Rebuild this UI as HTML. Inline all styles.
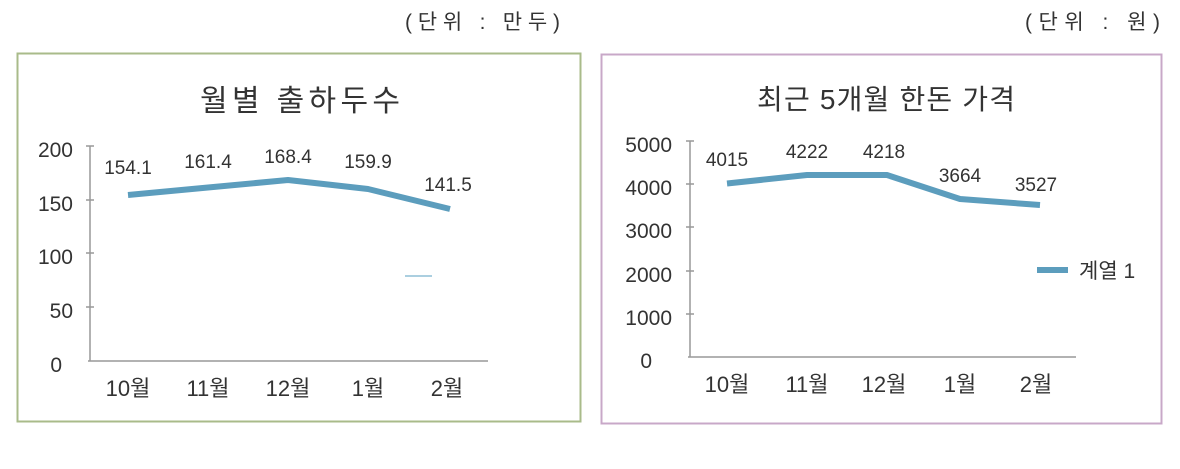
<!DOCTYPE html>
<html><head><meta charset="utf-8"><style>
body{margin:0;background:#fff;}
svg text{font-family:"Liberation Sans","Noto Sans CJK KR",sans-serif;fill:#333;}
</style></head><body>
<svg width="1180" height="464" viewBox="0 0 1180 464" xmlns="http://www.w3.org/2000/svg">
<rect width="1180" height="464" fill="#fff"/>
<text x="405" y="29" font-size="21" fill="#444" textLength="155" lengthAdjust="spacing">(단위 : 만두)</text>
<text x="1025" y="29" font-size="21" fill="#444" textLength="135" lengthAdjust="spacing">(단위 : 원)</text>
<!-- Left -->
<rect x="17.5" y="53.5" width="563" height="368" fill="#fff" stroke="#a9bb8a" stroke-width="2"/>
<text x="300" y="111" font-size="30" text-anchor="middle" textLength="200" lengthAdjust="spacing">월별 출하두수</text>
<g stroke="#999" stroke-width="1.5">
<line x1="90" y1="146" x2="90" y2="361"/>
<line x1="88" y1="361" x2="488" y2="361"/>
<line x1="86" y1="146" x2="94" y2="146"/><line x1="86" y1="200" x2="94" y2="200"/><line x1="86" y1="253" x2="94" y2="253"/><line x1="86" y1="307" x2="94" y2="307"/>
</g>
<g font-size="21" text-anchor="end">
<text x="73" y="157">200</text><text x="73" y="211">150</text><text x="73" y="264">100</text><text x="73" y="318">50</text><text x="62" y="372">0</text>
</g>
<polyline points="128,195 208,187.5 288,180 368,189 450,209" fill="none" stroke="#5c9dbd" stroke-width="6" stroke-linejoin="round"/>
<line x1="405" y1="276" x2="432" y2="276" stroke="#8fbfd6" stroke-width="1.5"/>
<g font-size="19" text-anchor="middle">
<text x="128" y="174">154.1</text><text x="208" y="168">161.4</text><text x="288" y="163">168.4</text><text x="368" y="168">159.9</text><text x="448" y="191">141.5</text>
</g>
<g font-size="22" text-anchor="middle">
<text x="128" y="396">10월</text><text x="208" y="396">11월</text><text x="288" y="396">12월</text><text x="368" y="396">1월</text><text x="447" y="396">2월</text>
</g>
<!-- Right -->
<rect x="601.5" y="54.5" width="560" height="369" fill="#fff" stroke="#c8a8c8" stroke-width="2"/>
<text x="886" y="109" font-size="28" text-anchor="middle" textLength="258" lengthAdjust="spacing">최근 5개월 한돈 가격</text>
<g stroke="#999" stroke-width="1.5">
<line x1="690" y1="141" x2="690" y2="357"/>
<line x1="688" y1="357" x2="1076" y2="357"/>
<line x1="686" y1="141" x2="694" y2="141"/><line x1="686" y1="184" x2="694" y2="184"/><line x1="686" y1="227" x2="694" y2="227"/><line x1="686" y1="271" x2="694" y2="271"/><line x1="686" y1="314" x2="694" y2="314"/>
</g>
<g font-size="21" text-anchor="end">
<text x="672" y="152">5000</text><text x="672" y="195">4000</text><text x="672" y="238">3000</text><text x="672" y="282">2000</text><text x="672" y="325">1000</text><text x="652" y="368">0</text>
</g>
<polyline points="727,183.5 807,175 887,175 960,199 1040,205" fill="none" stroke="#5c9dbd" stroke-width="6" stroke-linejoin="round"/>
<g font-size="19" text-anchor="middle">
<text x="727" y="166">4015</text><text x="807" y="158">4222</text><text x="884" y="158">4218</text><text x="960" y="182">3664</text><text x="1036" y="191">3527</text>
</g>
<line x1="1037" y1="270" x2="1068" y2="270" stroke="#5c9dbd" stroke-width="6"/>
<text x="1079" y="278" font-size="21">계열 1</text>
<g font-size="22" text-anchor="middle">
<text x="727" y="392">10월</text><text x="807" y="392">11월</text><text x="884" y="392">12월</text><text x="960" y="392">1월</text><text x="1036" y="392">2월</text>
</g>
</svg>
</body></html>
